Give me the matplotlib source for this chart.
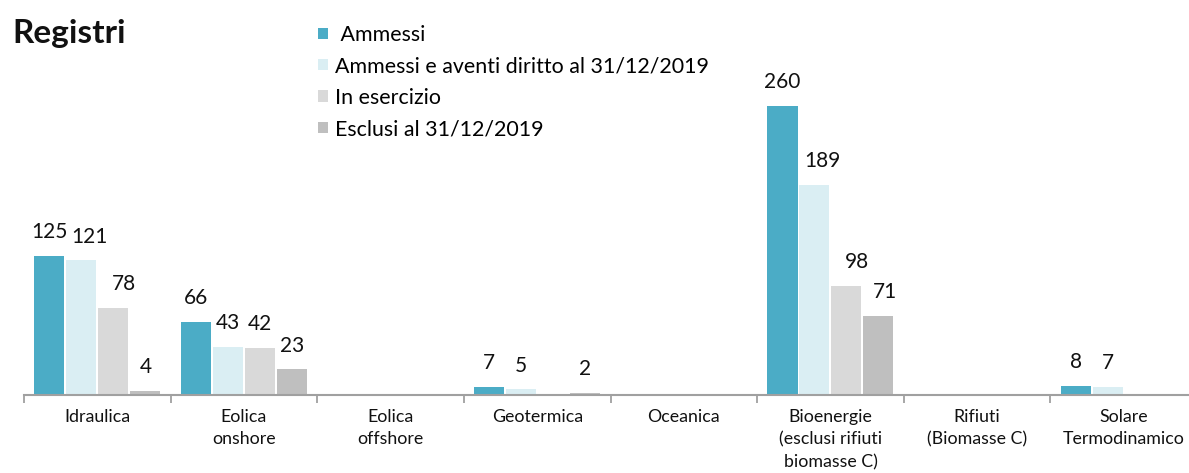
import numpy as np
import matplotlib
matplotlib.use('Agg')
from matplotlib import pyplot as plt

plt.rcParams['font.family'] = ['Lato', 'DejaVu Sans']

categories = ['Idraulica', 'Eolica\nonshore', 'Eolica\noffshore', 'Geotermica',
              'Oceanica', 'Bioenergie\n(esclusi rifiuti\nbiomasse C)',
              'Rifiuti\n(Biomasse C)', 'Solare\nTermodinamico']
series_names = [' Ammessi', 'Ammessi e aventi diritto al 31/12/2019',
                'In esercizio', 'Esclusi al 31/12/2019']
ammessi = [125, 66, np.nan, 7, np.nan, 260, np.nan, 8]
aventi_diritto = [121, 43, np.nan, 5, np.nan, 189, np.nan, 7]
in_esercizio = [78, 42, np.nan, np.nan, np.nan, 98, np.nan, np.nan]
esclusi = [4, 23, np.nan, 2, np.nan, 71, np.nan, np.nan]
colors = ['#4BACC6', '#DAEEF3', '#D9D9D9', '#BFBFBF']

W, H = 1189, 473
fig = plt.figure(figsize=(W / 100, H / 100), dpi=100)
# axis baseline at y=395 px, one category every ~146.6 px starting at x=24
ax = fig.add_axes([24 / W, (H - 395) / H, 1173 / W, 333.6 / H])

x = np.arange(len(categories))
width = 0.205
pitch = 0.218
handles = []
labels = []
for i, (vals, c, name) in enumerate(zip([ammessi, aventi_diritto, in_esercizio, esclusi],
                                        colors, series_names)):
    pos = x + (i - 1.5) * pitch
    b = ax.bar(pos, np.nan_to_num(vals), width, color=c, label=name)
    handles.append(b)
    for j, (p, v) in enumerate(zip(pos, vals)):
        if not np.isnan(v):
            t = ax.annotate(f'{v:g}', (p, v), xytext=(0, 10), textcoords='offset points',
                            ha='center', va='bottom', fontsize=15, color='#111111')
            labels.append((j, t))

ax.set_xlim(-0.5, len(categories) - 0.5)
ax.set_ylim(0, 300)
for s in ['top', 'right', 'left']:
    ax.spines[s].set_visible(False)
ax.spines['bottom'].set_color('#A0A0A0')
ax.spines['bottom'].set_linewidth(1.5)
ax.set_yticks([])
ax.set_xticks(x)
ax.set_xticklabels(categories, fontsize=12.8, linespacing=1.5, color='#111111')
ax.tick_params(axis='x', which='major', length=0, pad=10)
ax.set_xticks(np.arange(len(categories) + 1) - 0.5, minor=True)
ax.tick_params(axis='x', which='minor', length=6, width=1.3, color='#A0A0A0')

# nudge a value label to the right when it would touch the previous one in its group
renderer = fig.canvas.get_renderer()
prev = {}
for j, t in labels:
    bb = t.get_window_extent(renderer)
    if j in prev:
        px1, py1 = prev[j]
        if bb.x0 < px1 + 4 and bb.y0 < py1:
            shift = (px1 + 4 - bb.x0) * 72 / fig.dpi
            t.xyann = (t.xyann[0] + shift, t.xyann[1])
            bb = t.get_window_extent(renderer)
    prev[j] = (bb.x1, bb.y1)

fig.text(12 / W, 1 - 43 / H, 'Registri', fontsize=24, fontweight='bold',
         ha='left', va='baseline', color='#111111')

fig.legend(handles=handles, loc='upper left', bbox_to_anchor=(318 / W, 1 - 25 / H),
           frameon=False, fontsize=15.4, handlelength=0.45, handleheight=0.45,
           handletextpad=0.35, labelspacing=0.53, borderpad=0, borderaxespad=0)

fig.savefig('out.png', dpi=100)
